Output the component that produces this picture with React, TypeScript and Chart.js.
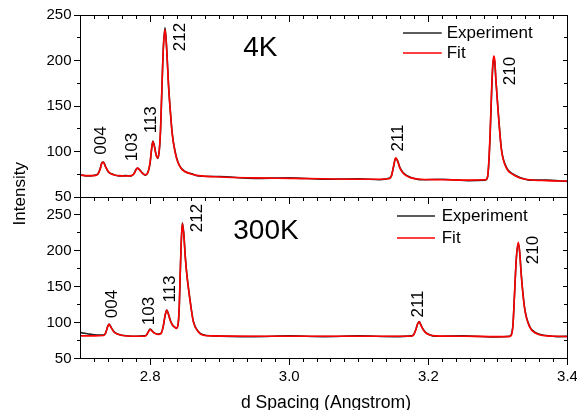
import React, { useEffect, useRef } from 'react';
import { Chart, registerables } from 'chart.js';

Chart.register(...registerables);

const FONT = '"Liberation Sans", Arial, Helvetica, sans-serif';
const RED = '#ff0000';
const BLACK = '#262626';

// ---- axis tick labels ----
const X_TICKS = [2.8, 3.0, 3.2, 3.4];
const Y_TICKS_4K = [50, 100, 150, 200, 250];
const Y_TICKS_300K = [50, 100, 150, 200, 250];
const SERIES_NAMES = ['Experiment', 'Fit'];
const PANEL_TITLES = ['4K', '300K'];
const X_TITLE = 'd Spacing (Angstrom)';
const Y_TITLE = 'Intensity';

// ---- 4K panel (d spacing, fit, experiment) ----
const d4K = [
  2.700, 2.710, 2.720, 2.725, 2.728, 2.731, 2.733, 2.736, 2.740, 2.745,
  2.755, 2.765, 2.773, 2.777, 2.780, 2.782, 2.785, 2.789, 2.793, 2.797,
  2.800, 2.802, 2.804, 2.806, 2.809, 2.811, 2.813, 2.815, 2.817, 2.819,
  2.8215, 2.824, 2.8265, 2.829, 2.832, 2.836, 2.840, 2.845, 2.850, 2.860,
  2.870, 2.900, 2.950, 3.000, 3.050, 3.100, 3.130, 3.143, 3.147, 3.150,
  3.153, 3.156, 3.159, 3.163, 3.168, 3.175, 3.190, 3.220, 3.260, 3.282,
  3.285, 3.287, 3.289, 3.291, 3.2925, 3.294, 3.2955, 3.297, 3.2997, 3.305,
  3.312, 3.322, 3.3315, 3.345, 3.370, 3.400,
];
const fit4K = [
  74, 73.5, 73.5, 75, 80, 87.5, 88, 83, 78, 75,
  73.5, 73, 73.5, 75.5, 80, 82, 79.5, 76, 74.5, 77,
  88, 102, 111, 106, 95, 93, 100, 124, 170, 212,
  234, 210, 172, 145, 118, 99, 88, 81, 78, 75,
  73.5, 72, 71, 70.5, 70, 69.5, 69.5, 70, 73, 84,
  93, 89, 82, 77, 73.5, 71, 69.5, 69, 68.5, 69,
  72, 90, 125, 170, 195, 205, 200, 180, 150, 102,
  82, 74.5, 71, 69, 68, 67.5,
];
const exp4K = [
  74.5, 73, 74, 75.5, 80.5, 88, 88.5, 83.5, 77.5, 75.5,
  73, 73.5, 73, 76, 80.5, 81.5, 80, 76.5, 74, 77.5,
  87, 101, 111.5, 107, 95.5, 92.5, 99, 122, 168, 213,
  236, 212, 174, 146, 119, 100, 88.5, 81.5, 78, 75.5,
  73, 72.5, 70.5, 71, 69.5, 70, 69, 70.5, 73.5, 83.5,
  92.5, 89.5, 82.5, 77.5, 74, 71.5, 69, 69.5, 68, 68.5,
  71.5, 88, 122, 166, 192, 202, 198, 179, 151, 103,
  83, 75, 71.5, 68.5, 68.5, 67,
];

// ---- 300K panel (d spacing, fit, experiment) ----
const d300K = [
  2.700, 2.710, 2.720, 2.733, 2.736, 2.739, 2.741, 2.744, 2.748, 2.753,
  2.760, 2.775, 2.790, 2.794, 2.797, 2.800, 2.803, 2.807, 2.812, 2.816,
  2.819, 2.8215, 2.824, 2.8265, 2.829, 2.832, 2.835, 2.838, 2.8405, 2.842,
  2.843, 2.8445, 2.8464, 2.8485, 2.8505, 2.8527, 2.8574, 2.8622, 2.8694, 2.8765,
  2.890, 2.950, 3.000, 3.050, 3.100, 3.150, 3.175, 3.179, 3.182, 3.1845,
  3.1867, 3.189, 3.192, 3.196, 3.201, 3.210, 3.250, 3.300, 3.316, 3.319,
  3.3216, 3.324, 3.3264, 3.3294, 3.3315, 3.3335, 3.3383, 3.3455, 3.355, 3.370,
  3.385, 3.400,
];
const fit300K = [
  81.5, 81.5, 81.5, 82, 85, 94, 97.5, 93, 87, 84,
  82, 81, 81, 82, 86, 90.5, 88, 85, 83.5, 85,
  95, 110, 117, 111, 103, 97, 94, 92, 100, 125,
  158, 205, 238, 222, 192, 168, 131, 101, 87, 82.5,
  81.5, 81, 81, 81, 81, 81, 81, 83, 90, 98,
  101, 97, 91, 86, 83, 81.5, 81, 80.5, 80.5, 82,
  96, 143, 190, 212, 195, 166, 120, 94, 85, 81.5,
  81, 80.5,
];
const exp300K = [
  86, 84.5, 83, 82.5, 85.5, 94.5, 98, 93.5, 87.5, 84,
  82.5, 81, 81.5, 82, 86.5, 91, 88.5, 85, 84, 85.5,
  95, 109, 117.5, 112, 103.5, 97, 94, 92.5, 99, 122,
  155, 203, 239, 224, 194, 169, 132, 102, 87.5, 83,
  81.5, 80.5, 81.5, 80.5, 81.5, 80.5, 81.5, 83.5, 90.5, 98,
  101.5, 97.5, 91.5, 86.5, 83.5, 81, 81.5, 80, 81, 83,
  97, 142, 188, 210, 196, 168, 121, 95, 85.5, 82,
  80.5, 81,
];

// ---- peak annotations (text, anchored in data coordinates) ----
const PEAKS = ['004', '103', '113', '212', '211', '210'];
const peakD4K = [2.7295, 2.7747, 2.8013, 2.8430, 3.1564, 3.3174];
const peakI4K = [112.1, 104.9, 134.9, 225.8, 114.8, 188.5];
const peakD300K = [2.7460, 2.7985, 2.8287, 2.8682, 3.1851, 3.3504];
const peakI300K = [125.9, 116.1, 146.8, 245.7, 125.9, 201.1];

// panel title anchors (left, baseline) in data coordinates
const titleD = [2.934, 2.9196];
const titleI = [204.9, 216.0];
// legend anchors in data coordinates: [lineStart, lineEnd, textStart], rows
const legendD4K = [3.1635, 3.2192, 3.2264];
const legendI4K = [230.2, 208.2];
const legendD300K = [3.1549, 3.2095, 3.2192];
const legendI300K = [248.5, 217.8];

const pts = (xs: number[], ys: number[]) => xs.map((x, i) => ({ x, y: ys[i] }));

function drawFrame(chart: any) {
  const ctx = chart.ctx;
  const ca = chart.chartArea;
  const xs = chart.scales.x;
  const yt = chart.scales.yTop;
  const yb = chart.scales.yBot;
  const L = Math.floor(ca.left);
  const R = Math.floor(ca.right);
  const T = Math.floor(yt.top);
  const M = Math.floor(yt.bottom);
  const B = Math.floor(yb.bottom);
  ctx.save();
  ctx.globalCompositeOperation = 'source-over';
  ctx.globalAlpha = 1;
  ctx.fillStyle = '#000000';
  ctx.fillRect(L, T, R - L + 1, 1);
  ctx.fillRect(L, M, R - L + 1, 1);
  ctx.fillRect(L, B, R - L + 1, 1);
  ctx.fillRect(L, T, 1, B - T + 1);
  ctx.fillRect(R, T, 1, B - T + 1);
  for (let k = 136; k <= 170; k++) {
    const px = Math.floor(xs.getPixelForValue(k / 50));
    const len = k % 10 === 0 ? 6 : 3;
    ctx.fillRect(px, B, 1, len + 1);
    ctx.fillRect(px, T, 1, len + 1);
    ctx.fillRect(px, M, 1, len + 1);
  }
  for (const scale of [yt, yb]) {
    for (let val = 50; val <= 250; val += 25) {
      const py = Math.floor(scale.getPixelForValue(val));
      const major = val % 50 === 0;
      const ll = major ? 6 : 3;
      const rl = major ? 4 : 3;
      ctx.fillRect(L - ll, py, ll + 1, 1);
      ctx.fillRect(R - rl, py, rl + 1, 1);
    }
  }
  ctx.restore();
}

// frame, panel boundary and tick marks
const framePlugin = {
  id: 'panelFrame',
  afterDatasetsDraw(chart: any) {
    drawFrame(chart);
  },
  afterDraw(chart: any) {
    drawFrame(chart);
  },
};

// texts: peak labels, panel titles, legends, axis titles
const textPlugin = {
  id: 'panelTexts',
  afterDraw(chart: any) {
    const ctx = chart.ctx;
    const ca = chart.chartArea;
    const xs = chart.scales.x;
    const yt = chart.scales.yTop;
    const yb = chart.scales.yBot;
    ctx.save();
    ctx.fillStyle = '#000';
    const rot = (text: string, x: number, y: number) => {
      ctx.save();
      ctx.translate(x, y);
      ctx.rotate(-Math.PI / 2);
      ctx.textAlign = 'center';
      ctx.textBaseline = 'middle';
      ctx.fillText(text, 0, 0);
      ctx.restore();
    };
    ctx.font = `17px ${FONT}`;
    PEAKS.forEach((p, i) => {
      rot(p, xs.getPixelForValue(peakD4K[i]), yt.getPixelForValue(peakI4K[i]));
      rot(p, xs.getPixelForValue(peakD300K[i]), yb.getPixelForValue(peakI300K[i]));
    });

    ctx.font = `28px ${FONT}`;
    ctx.textAlign = 'left';
    ctx.textBaseline = 'alphabetic';
    ctx.fillText(PANEL_TITLES[0], xs.getPixelForValue(titleD[0]), yt.getPixelForValue(titleI[0]));
    ctx.fillText(PANEL_TITLES[1], xs.getPixelForValue(titleD[1]), yb.getPixelForValue(titleI[1]));

    const colors = [BLACK, RED];
    const legend = (scale: any, ld: number[], li: number[]) => {
      ctx.font = `17px ${FONT}`;
      ctx.textAlign = 'left';
      ctx.textBaseline = 'middle';
      SERIES_NAMES.forEach((name, i) => {
        const py = scale.getPixelForValue(li[i]);
        ctx.strokeStyle = colors[i];
        ctx.lineWidth = 1.5;
        ctx.beginPath();
        ctx.moveTo(xs.getPixelForValue(ld[0]), py);
        ctx.lineTo(xs.getPixelForValue(ld[1]), py);
        ctx.stroke();
        ctx.fillStyle = '#000';
        ctx.fillText(name, xs.getPixelForValue(ld[2]), py + 0.5);
      });
    };
    legend(yt, legendD4K, legendI4K);
    legend(yb, legendD300K, legendI300K);

    ctx.fillStyle = '#000';
    ctx.font = `17.6px ${FONT}`;
    ctx.textAlign = 'center';
    ctx.textBaseline = 'alphabetic';
    ctx.fillText(X_TITLE, (ca.left + ca.right) / 2 + 2, 408);
    ctx.save();
    ctx.translate(25, (yt.top + yb.bottom) / 2 + 7);
    ctx.rotate(-Math.PI / 2);
    ctx.font = `17px ${FONT}`;
    ctx.fillText(Y_TITLE, 0, 0);
    ctx.restore();
    ctx.restore();
    drawFrame(chart);
  },
};

const yScale = (weight: number, max: number, ticks: number[]) => ({
  type: 'linear',
  position: 'left',
  stack: 'panels',
  stackWeight: weight,
  min: 50,
  max,
  grid: { display: true, drawOnChartArea: false, drawTicks: true, tickLength: 6, color: '#000', lineWidth: 1 },
  border: { display: true, color: '#000', width: 1 },
  ticks: {
    padding: 3,
    color: '#000',
    font: { family: FONT, size: 15 },
    autoSkip: false,
  },
  afterBuildTicks: (s: any) => {
    s.ticks = ticks.map((t) => ({ value: t }));
  },
  afterFit: (s: any) => {
    s.width = 80.5;
    s.paddingTop = 0;
    s.paddingBottom = 0;
  },
});

export default function App() {
  const ref = useRef<HTMLCanvasElement>(null);
  useEffect(() => {
    const canvas = ref.current;
    if (!canvas) return;
    const line = (label: string, xs: number[], ys: number[], axis: string, color: string, order: number) => ({
      label,
      data: pts(xs, ys),
      yAxisID: axis,
      borderColor: color,
      backgroundColor: color,
      borderWidth: 1.6,
      pointRadius: 0,
      cubicInterpolationMode: 'monotone',
      order,
    });
    const chart = new Chart(canvas, {
      type: 'line',
      data: {
        datasets: [
          line(SERIES_NAMES[1], d4K, fit4K, 'yTop', RED, 0),
          line(SERIES_NAMES[0], d4K, exp4K, 'yTop', BLACK, 1),
          line(SERIES_NAMES[1], d300K, fit300K, 'yBot', RED, 0),
          line(SERIES_NAMES[0], d300K, exp300K, 'yBot', BLACK, 1),
        ] as any,
      },
      options: {
        responsive: false,
        maintainAspectRatio: false,
        animation: false,
        events: [],
        layout: { padding: { left: 0, top: 15, right: 9.5, bottom: 0 } },
        plugins: { legend: { display: false }, tooltip: { enabled: false } },
        scales: {
          x: {
            type: 'linear',
            min: 2.7,
            max: 3.4,
            grid: { display: true, drawOnChartArea: false, drawTicks: true, tickLength: 6, color: '#000', lineWidth: 1 },
            border: { display: true, color: '#000', width: 1 },
            ticks: {
              padding: 3,
              color: '#000',
              font: { family: FONT, size: 15 },
              maxRotation: 0,
              autoSkip: false,
              callback: (t: any) => Number(t).toFixed(1),
            },
            afterBuildTicks: (s: any) => {
              s.ticks = X_TICKS.map((t) => ({ value: t }));
            },
            afterFit: (s: any) => {
              s.height = 51.5;
              s.paddingLeft = 0;
              s.paddingRight = 0;
            },
          },
          yBot: yScale(161.5, 275, Y_TICKS_300K),
          yTop: yScale(182, 250, Y_TICKS_4K),
        } as any,
      },
      plugins: [framePlugin, textPlugin],
    });
    return () => chart.destroy();
  }, []);
  return (
    <div style={{ position: 'absolute', left: 0, top: 0, width: 577, height: 410, background: '#fff' }}>
      <canvas ref={ref} width={577} height={410} style={{ display: 'block', width: 577, height: 410 }} />
    </div>
  );
}
